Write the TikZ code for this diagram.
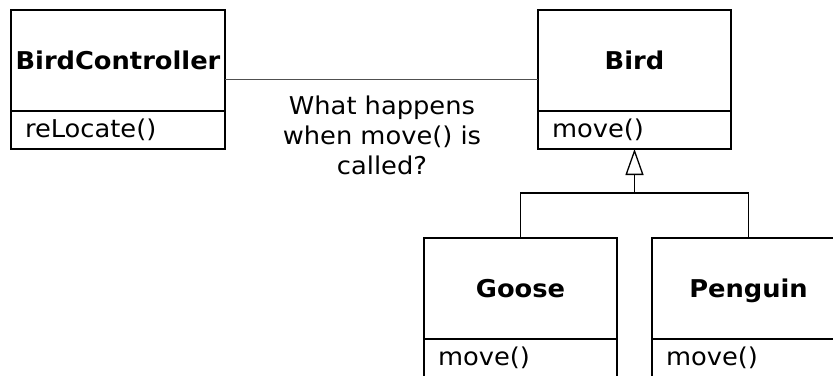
\documentclass[tikz,border=0pt]{standalone}
\usepackage{fontspec}
\setmainfont[FakeStretch=1.05]{DejaVu Sans}
\usetikzlibrary{arrows.meta,positioning}
\definecolor{assoc}{RGB}{80,80,80}
\tikzset{
  classtop/.style={draw=black, line width=1.8pt, outer sep=0pt, minimum width=#1, minimum height=101pt,
     inner sep=0pt, text height=17.5pt, text depth=0pt,
     font=\fontsize{24.5}{30}\selectfont\bfseries, anchor=north},
  classbot/.style={draw=black, line width=1.8pt, outer sep=0pt, minimum width=#1, minimum height=38pt,
     inner sep=0pt, text width=#1-28pt, align=left, anchor=north,
     font=\fontsize{24.5}{30}\selectfont},
  assocline/.style={draw=assoc, line width=1pt},
  inherit/.style={draw=black, line width=1.3pt},
  labeltext/.style={font=\fontsize{24.5}{30}\selectfont, align=center, inner sep=0pt}
}
\begin{document}
\begin{tikzpicture}[x=1pt,y=1pt]
\useasboundingbox (0,0) rectangle (833,-375);
\clip (0,0) rectangle (833,-375);
% BirdController
\node[classtop=214pt] (bc) at (118,-10) {BirdController};
\node[classbot=214pt] (bcm) at (bc.south) {reLocate()};
% Bird
\node[classtop=193pt] (bird) at (634.5,-10) {Bird};
\node[classbot=193pt] (birdm) at (bird.south) {move()};
% Goose
\node[classtop=193pt] (goose) at (520.5,-238) {Goose};
\node[classbot=193pt] (goosem) at (goose.south) {move()};
% Penguin
\node[classtop=193pt] (peng) at (748.5,-238) {Penguin};
\node[classbot=193pt] (pengm) at (peng.south) {move()};
% association
\coordinate (bcmid) at (bc.north east |- 0,-79.5);
\coordinate (birdmid) at (bird.north west |- 0,-79.5);
\draw[assocline] (bcmid) -- (birdmid);
\node[labeltext] (lbl) at (382,-135) {What happens\\when move() is\\called?};
% generalization
\coordinate (split) at (634.5,-193);
\draw[inherit] (goose.north) |- (split) -| (peng.north);
\draw[inherit, -{Triangle[open, length=26pt, width=18pt, line width=1.3pt]}] (split) -- (birdm.south);
\end{tikzpicture}
\end{document}
